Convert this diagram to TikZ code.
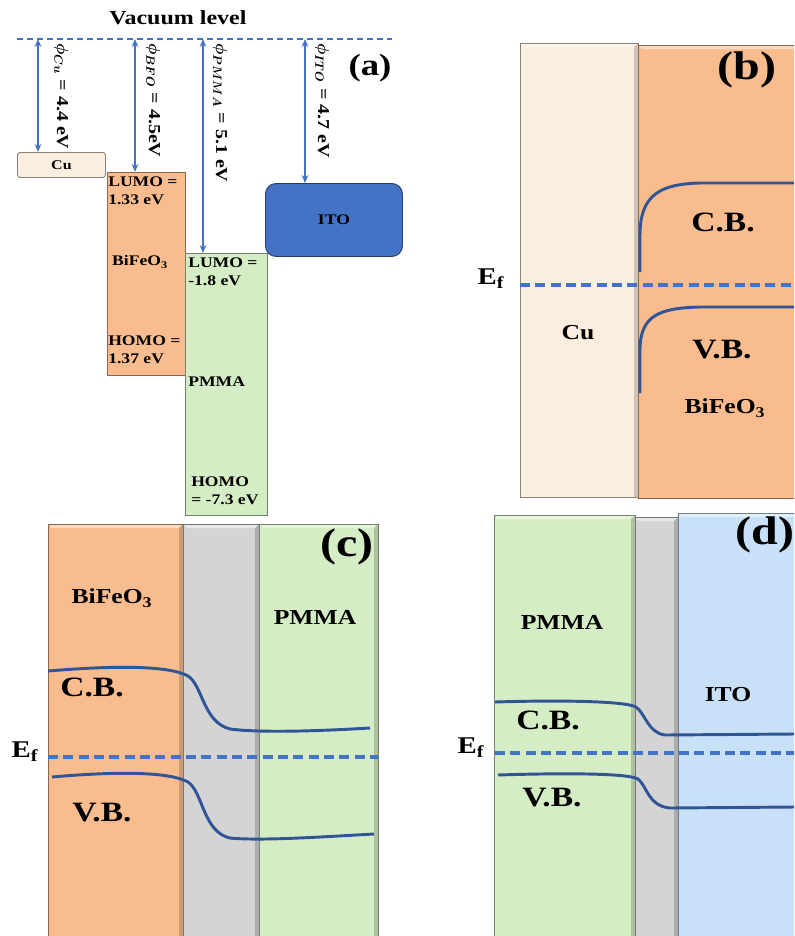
\documentclass[tikz,border=0pt]{standalone}
\usepackage{fontspec}
\setmainfont{Liberation Serif}[FakeStretch=1.2]
\usepackage{amsmath}
\usetikzlibrary{arrows.meta, positioning, calc}
\definecolor{mblue}{HTML}{4472C4}
\definecolor{mband}{HTML}{2F5597}
\definecolor{mcu}{HTML}{FCEEDF}
\definecolor{mbfo}{HTML}{F9BC8E}
\definecolor{mpmma}{HTML}{D4EDC4}
\definecolor{mgap}{HTML}{D4D4D4}
\definecolor{mito}{HTML}{C9E1F8}
\tikzset{
  bevel/.style={path picture={
      \fill[white, opacity=.45] (path picture bounding box.north west) -- (path picture bounding box.north east)
        -- ([xshift=-3pt, yshift=-3pt]path picture bounding box.north east) -- ([xshift=3pt, yshift=-3pt]path picture bounding box.north west) -- cycle;
      \fill[black, opacity=.18] (path picture bounding box.north east) -- (path picture bounding box.south east)
        -- ([xshift=-3pt]path picture bounding box.south east) -- ([xshift=-3pt, yshift=-3pt]path picture bounding box.north east) -- cycle;}},
  layer/.style={draw=#1!55!black, fill=#1, line width=0.6pt, inner sep=0pt, outer sep=0pt,
                anchor=north west, bevel},
  lvl/.style={draw=#1!55!black, fill=#1, line width=0.7pt, inner sep=0pt, anchor=north west},
  boxtxt/.style={font=\bfseries\fontsize{11}{13.5}\selectfont, align=left, inner sep=0pt},
  philbl/.style={font=\bfseries\boldmath\fontsize{12.5}{14}\selectfont, rotate=-90, anchor=west, inner sep=0pt},
  lbl/.style={font=\bfseries\fontsize{16}{18}\selectfont, inner sep=0pt},
  bandlbl/.style={font=\bfseries\fontsize{21}{24}\selectfont, inner sep=0pt},
  eflbl/.style={font=\bfseries\fontsize{18}{20}\selectfont, inner sep=0pt},
  tag/.style={font=\bfseries\fontsize{30}{32}\selectfont, inner sep=0pt},
  band/.style={mband, line width=2.2pt},
  fermi/.style={mblue, line width=3pt, dash pattern=on 7.5pt off 4pt},
  vac/.style={mblue, line width=1.6pt, dash pattern=on 4.5pt off 3pt},
  varr/.style={{Stealth[length=6pt, width=5pt]}-{Stealth[length=6pt, width=5pt]}, mblue, line width=1.6pt},
}
\begin{document}
\begin{tikzpicture}[x=0.75pt, y=-0.75pt]
  \useasboundingbox (0,0) rectangle (794,936);
  \clip (0,0) rectangle (794,936);

  % (a) energy levels
  \node[font=\bfseries\fontsize{15}{17}\selectfont] (vactxt) at (178,18) {Vacuum level};
  \coordinate (vacL) at (17,39);
  \coordinate (vacR) at (392,39);
  \draw[vac] (vacL) -- (vacR);

  \node[lvl=mcu, rounded corners=2pt, minimum width=66pt, minimum height=18.75pt,
        font=\bfseries\fontsize{10}{12}\selectfont] (cu) at (17,152) {Cu};
  \node[lvl=mbfo, minimum width=58.5pt, minimum height=152.25pt] (bfo) at (107,172) {};
  \node[lvl=mpmma, minimum width=61.5pt, minimum height=196.5pt] (pmma) at (185,253) {};
  \node[lvl=mblue, rounded corners=8pt, minimum width=102.75pt, minimum height=54.75pt,
        font=\bfseries\fontsize{11}{13}\selectfont] (ito) at (265,183) {ITO};

  \coordinate (vcu) at (38,39);
  \coordinate (vbfo) at (135,39);
  \coordinate (vpmma) at (203,39);
  \coordinate (vito) at (305,39);
  \draw[varr] (vcu) -- (vcu |- cu.north);
  \draw[varr] (vbfo) -- (vbfo |- bfo.north);
  \draw[varr] (vpmma) -- (vpmma |- pmma.north);
  \draw[varr] (vito) -- (vito |- ito.north);

  \node[philbl] (phicu) at (61,43) {$\phi_{Cu}$ = 4.4 eV};
  \node[philbl] (phibfo) at (153,43) {$\phi_{BFO}$ = 4.5eV};
  \node[philbl] (phipmma) at (220,43) {$\phi_{PMMA}$ = 5.1 eV};
  \node[philbl] (phiito) at (322,43) {$\phi_{ITO}$ = 4.7 eV};
  \node[tag, font=\bfseries\fontsize{23}{25}\selectfont] (taga) at (370,68) {(a)};

  \node[boxtxt, anchor=north west] (bfolumo) at (108,177) {LUMO =\\1.33 eV};
  \node[boxtxt] (bfoname) at (140,262) {BiFeO\textsubscript{3}};
  \node[boxtxt, anchor=north west] (bfohomo) at (108,336) {HOMO =\\1.37 eV};
  \node[boxtxt, anchor=north west] (pmmalumo) at (188,258) {LUMO =\\-1.8 eV};
  \node[boxtxt, anchor=west] (pmmaname) at (188,382) {PMMA};
  \node[boxtxt, anchor=north west] (pmmahomo) at (191,477) {HOMO\\= -7.3 eV};

  % (b) Cu / BiFeO3
  \node[layer=mcu, minimum width=88.5pt, minimum height=341pt] (bcu) at (520,43) {};
  \node[layer=mbfo, minimum width=121.5pt, minimum height=340pt] (bbfo) at (638,45) {};
  \node[tag] (tagb) at (747,70) {(b)};
  \node[lbl] (bcutxt) at (578,333) {Cu};
  \node[bandlbl] (bcb) at (723,222) {C.B.};
  \node[bandlbl] (bvb) at (722,350) {V.B.};
  \node[lbl] (bbfotxt) at (725,408) {BiFeO\textsubscript{3}};
  \node[eflbl] (bef) at (491,279) {E\textsubscript{f}};
  \coordinate (bfL) at (520,285);
  \draw[fermi] (bfL) -- (bfL -| bbfo.east);
  \draw[band] (640,272) -- (640,235) .. controls (640,195) and (660,184) .. (700,183) -- (794,183);
  \draw[band] (640,393) -- (640,350) .. controls (640,315) and (660,308) .. (700,307) -- (794,307);

  % (c) BiFeO3 / PMMA
  \node[layer=mbfo, minimum width=101.25pt, minimum height=312pt] (cbfo) at (48,524) {};
  \node[layer=mgap, minimum width=57pt, minimum height=312pt] (cgap) at (183,524) {};
  \node[layer=mpmma, minimum width=89.25pt, minimum height=312pt] (cpmma) at (259,524) {};
  \node[tag] (tagc) at (347,547) {(c)};
  \node[lbl] (cbfotxt) at (112,598) {BiFeO\textsubscript{3}};
  \node[lbl] (cpmmatxt) at (315,617) {PMMA};
  \node[bandlbl] (ccb) at (92,687) {C.B.};
  \node[bandlbl] (cvb) at (102,813) {V.B.};
  \node[eflbl] (cef) at (25,752) {E\textsubscript{f}};
  \coordinate (cfL) at (48,757);
  \draw[fermi] (cfL) -- (cfL -| cpmma.east);
  \draw[band] (48,671) .. controls (120,665) and (170,666) .. (188,676)
    .. controls (203,686) and (203,722) .. (230,729) .. controls (260,733) and (320,731) .. (370,728);
  \draw[band] (52,777) .. controls (120,771) and (170,772) .. (188,782)
    .. controls (203,792) and (203,832) .. (230,838) .. controls (260,841) and (320,837) .. (374,834);

  % (d) PMMA / ITO
  \node[layer=mpmma, minimum width=105.75pt, minimum height=318.75pt] (dpmma) at (494,515) {};
  \node[layer=mgap, minimum width=32.25pt, minimum height=318pt] (dgap) at (635,517) {};
  \node[layer=mito, minimum width=91.5pt, minimum height=320.25pt] (dito) at (678,513) {};
  \node[tag] (tagd) at (765,535) {(d)};
  \node[lbl] (dpmmatxt) at (562,622) {PMMA};
  \node[lbl] (ditotxt) at (728,695) {ITO};
  \node[bandlbl] (dcb) at (548,720) {C.B.};
  \node[bandlbl] (dvb) at (552,798) {V.B.};
  \node[eflbl] (def) at (471,748) {E\textsubscript{f}};
  \coordinate (dfL) at (495,753);
  \draw[fermi] (dfL) -- (dfL -| dito.east);
  \draw[band] (495,702) .. controls (560,700) and (625,701) .. (636,707)
    .. controls (645,713) and (648,733) .. (665,735) -- (794,734);
  \draw[band] (498,775) .. controls (560,773) and (628,773) .. (638,779)
    .. controls (647,786) and (648,806) .. (670,808) -- (794,807);
\end{tikzpicture}
\end{document}
